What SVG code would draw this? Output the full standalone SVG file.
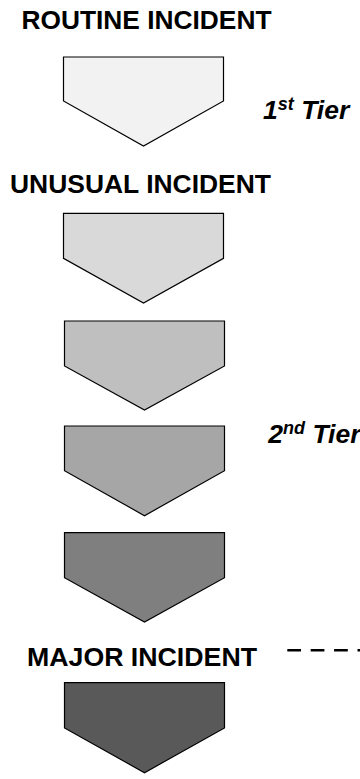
<svg xmlns="http://www.w3.org/2000/svg" width="360" height="779" viewBox="0 0 360 779">
<style>
.lbl{font-family:"Liberation Sans",Arial,sans-serif;font-weight:bold;font-size:26px;fill:#000}
.tier{font-family:"Liberation Sans",Arial,sans-serif;font-weight:bold;font-style:italic;font-size:26.5px;fill:#000}
.chev{stroke:#000;stroke-width:1.2;stroke-linejoin:miter}
</style>
<rect width="360" height="779" fill="#fff"/>
<g id="label-routine"><text class="lbl" x="21.5" y="29" textLength="250" lengthAdjust="spacingAndGlyphs">ROUTINE INCIDENT</text></g>
<g id="label-unusual"><text class="lbl" x="10" y="192.5" textLength="261" lengthAdjust="spacingAndGlyphs">UNUSUAL INCIDENT</text></g>
<g id="label-major"><text class="lbl" x="27" y="665.5" textLength="230" lengthAdjust="spacingAndGlyphs">MAJOR INCIDENT</text></g>
<g id="tier1"><text class="tier" x="263" y="119.3">1<tspan font-size="18" dy="-9">st</tspan><tspan dy="9"> Tier</tspan></text></g>
<g id="tier2"><text class="tier" x="268.3" y="443.3">2<tspan font-size="18" dy="-9">nd</tspan><tspan dy="9"> Tier</tspan></text></g>
<g id="chevron1"><polygon class="chev" fill="#f2f2f2" points="63.5,57 223.5,57 223.5,101 143.5,146 63.5,101"/></g>
<g id="chevron2"><polygon class="chev" fill="#d9d9d9" points="63.5,213.3 223.5,213.3 223.5,258.3 143.5,303 63.5,258.3"/></g>
<g id="chevron3"><polygon class="chev" fill="#bfbfbf" points="64.5,321 224.5,321 224.5,366 144.5,410 64.5,366"/></g>
<g id="chevron4"><polygon class="chev" fill="#a6a6a6" points="64.5,426 224.5,426 224.5,470.7 144.5,515.7 64.5,470.7"/></g>
<g id="chevron5"><polygon class="chev" fill="#7f7f7f" points="64.5,532.7 224.5,532.7 224.5,577.7 144.5,622 64.5,577.7"/></g>
<g id="chevron6"><polygon class="chev" fill="#595959" points="64.5,682.7 224.5,682.7 224.5,728 144.5,772.7 64.5,728"/></g>
<g id="connectors"><line x1="287.3" y1="650.3" x2="362" y2="650.3" stroke="#000" stroke-width="2.5" stroke-dasharray="13.7 9.7"/></g>
</svg>
